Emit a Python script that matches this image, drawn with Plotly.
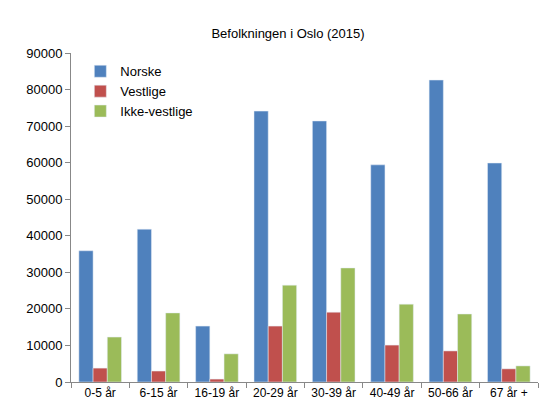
import plotly.graph_objects as go

categories = ["0-5 år", "6-15 år", "16-19 år", "20-29 år", "30-39 år", "40-49 år", "50-66 år", "67 år +"]
norske = [35900, 41800, 15300, 74100, 71400, 59400, 82600, 59900]
vestlige = [3800, 3000, 800, 15300, 19100, 10100, 8500, 3600]
ikke_vestlige = [12300, 18900, 7700, 26500, 31200, 21300, 18600, 4400]

fig = go.Figure()
fig.add_bar(x=categories, y=norske, name="Norske", marker_color="#4F81BD")
fig.add_bar(x=categories, y=vestlige, name="Vestlige", marker_color="#C0504D")
fig.add_bar(x=categories, y=ikke_vestlige, name="Ikke-vestlige", marker_color="#9BBB59")

fig.update_layout(
    width=560, height=420,
    paper_bgcolor="white", plot_bgcolor="white",
    font=dict(family="Liberation Sans", size=12, color="black"),
    title=dict(text="Befolkningen i Oslo (2015)", x=0.5, y=0.95, xanchor="center", font=dict(size=13)),
    margin=dict(l=63, r=30, t=45, b=46),
    bargap=0.27, bargroupgap=0,
    legend=dict(x=0.02, y=0.99, xanchor="left", yanchor="top", bgcolor="rgba(0,0,0,0)",
                font=dict(size=13), tracegroupgap=0),
    showlegend=True,
)
fig.update_xaxes(showline=True, linecolor="#888", ticks="outside", tickcolor="#888",
                 tickson="boundaries", showgrid=False, tickfont=dict(size=12))
fig.update_yaxes(range=[0, 90000], dtick=10000, showline=True, linecolor="#888",
                 ticks="outside", tickcolor="#888", showgrid=False, tickformat="d",
                 tickfont=dict(size=13))
fig.write_html("out.html")
